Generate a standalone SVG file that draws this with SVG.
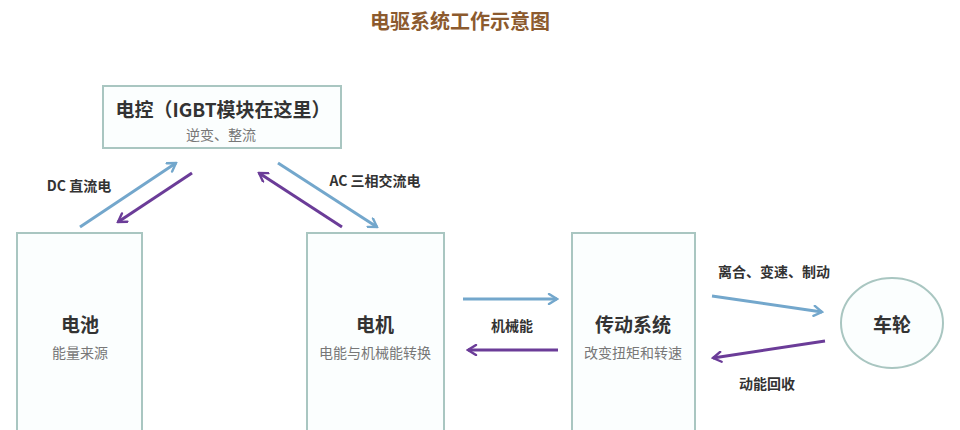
<svg xmlns="http://www.w3.org/2000/svg" width="960" height="430" viewBox="0 0 960 430">
<defs>
<style>
.box{fill:#fbfefe;stroke:#a9c6c1;stroke-width:2}
.t{font-family:"Noto Sans CJK SC","Noto Sans",sans-serif;text-anchor:middle}
.h{font-size:19px;font-weight:bold;fill:#333}
.s{font-size:14px;fill:#777}
.l{font-size:14px;font-weight:bold;fill:#333}
.blue{stroke:#73a7cc;stroke-width:3;fill:none;marker-end:url(#ab)}
.purple{stroke:#6b3c98;stroke-width:3;fill:none;marker-end:url(#ap)}
</style>
<marker id="ab" viewBox="0 0 12 12" refX="10" refY="6" markerWidth="4" markerHeight="4" orient="auto" markerUnits="strokeWidth">
<path d="M2,1 L10,6 L2,11" fill="none" stroke="#73a7cc" stroke-width="2.4" stroke-linecap="round"/>
</marker>
<marker id="ap" viewBox="0 0 12 12" refX="10" refY="6" markerWidth="4" markerHeight="4" orient="auto" markerUnits="strokeWidth">
<path d="M2,1 L10,6 L2,11" fill="none" stroke="#6b3c98" stroke-width="2.4" stroke-linecap="round"/>
</marker>
</defs>
<rect width="960" height="430" fill="#ffffff"/>
<text class="t" x="460" y="29" font-size="20" font-weight="bold" fill="#8c5a2e">电驱系统工作示意图</text>
<g id="ecu">
<rect class="box" x="103" y="86" width="238" height="62"/>
<text class="t h" x="223" y="117">电控（IGBT模块在这里）</text>
<text class="t s" x="221" y="140">逆变、整流</text>
</g>
<g id="battery">
<rect class="box" x="17" y="233" width="125" height="205"/>
<text class="t h" x="80" y="332">电池</text>
<text class="t s" x="80" y="358">能量来源</text>
</g>
<g id="motor">
<rect class="box" x="307" y="233" width="137" height="205"/>
<text class="t h" x="375" y="332">电机</text>
<text class="t s" x="375" y="358">电能与机械能转换</text>
</g>
<g id="transmission">
<rect class="box" x="572" y="233" width="123" height="205"/>
<text class="t h" x="633" y="332">传动系统</text>
<text class="t s" x="633" y="358">改变扭矩和转速</text>
</g>
<g id="wheel">
<ellipse class="box" cx="892" cy="323" rx="51" ry="45"/>
<text class="t h" x="892" y="332">车轮</text>
</g>
<g id="connectors">
<line class="blue" x1="80" y1="227" x2="176" y2="163"/>
<line class="purple" x1="192" y1="173" x2="118" y2="222"/>
<line class="purple" x1="342" y1="227" x2="259" y2="173"/>
<line class="blue" x1="278" y1="163" x2="377" y2="227"/>
<line class="blue" x1="463" y1="299" x2="557" y2="299"/>
<line class="purple" x1="558" y1="350" x2="468" y2="350"/>
<line class="blue" x1="712" y1="296" x2="822" y2="312"/>
<line class="purple" x1="825" y1="341" x2="713" y2="358"/>
<text class="t l" x="79" y="191">DC 直流电</text>
<text class="t l" x="375" y="186">AC 三相交流电</text>
<text class="t l" x="512" y="331">机械能</text>
<text class="t l" x="774" y="277">离合、变速、制动</text>
<text class="t l" x="767" y="389">动能回收</text>
</g>
</svg>
